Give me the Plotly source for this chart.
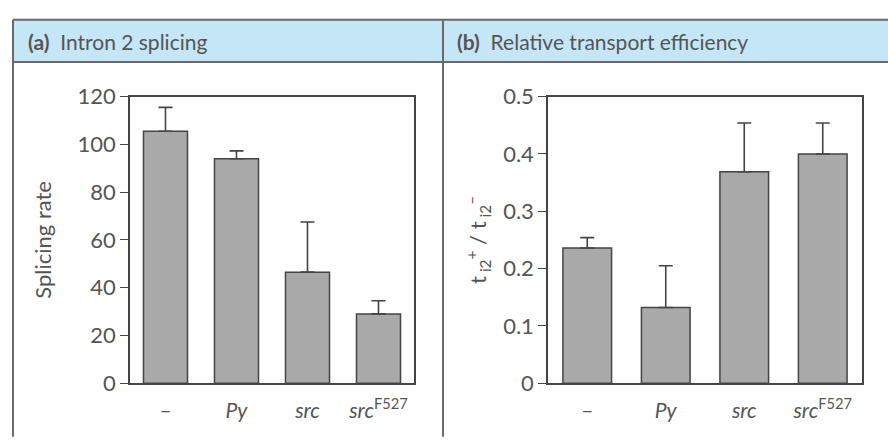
import plotly.graph_objects as go

categories = ["–", "<i>Py</i>", "<i>src</i>", "<i>src</i><sup>F527</sup>"]
splicing_rate = [105.5, 94, 46.5, 29]
splicing_err = [10, 3.3, 21, 5.5]
transport_eff = [0.236, 0.132, 0.369, 0.400]
transport_err = [0.018, 0.073, 0.085, 0.054]
left_ticks = [0, 20, 40, 60, 80, 100, 120]
right_ticks = [0, 0.1, 0.2, 0.3, 0.4, 0.5]
right_ticklabels = ["0", "0.1", "0.2", "0.3", "0.4", "0.5"]

W, H = 888, 445
FONT = "Lato"
TXT = "#555555"
BAR = "#a9a9a9"
EDGE = "#444444"
LINE = "#6a6a6a"

def px(x):
    return x / W

def py(y):
    return 1 - y / H

fig = go.Figure()
x_idx = list(range(len(categories)))
fig.add_trace(go.Bar(
    x=x_idx, y=splicing_rate, width=0.62, xaxis="x", yaxis="y",
    marker=dict(color=BAR, line=dict(color=EDGE, width=1.5)),
    error_y=dict(type="data", symmetric=False, array=splicing_err,
                 arrayminus=[0] * 4, color=EDGE, thickness=1.6, width=7),
    showlegend=False))
fig.add_trace(go.Bar(
    x=x_idx, y=transport_eff, width=0.62, xaxis="x2", yaxis="y2",
    marker=dict(color=BAR, line=dict(color=EDGE, width=1.5)),
    error_y=dict(type="data", symmetric=False, array=transport_err,
                 arrayminus=[0] * 4, color=EDGE, thickness=1.6, width=7),
    showlegend=False))

axcommon = dict(showline=True, linecolor=EDGE, linewidth=1.5, mirror=True,
                showgrid=False, zeroline=False)
fig.update_layout(
    width=W, height=H, margin=dict(l=0, r=0, t=0, b=0),
    paper_bgcolor="white", plot_bgcolor="white",
    font=dict(family=FONT, color=TXT, size=21),
    xaxis=dict(domain=[px(130), px(414)], range=[-0.5, 3.5],
               tickvals=x_idx, ticktext=categories, ticks="",
               ticklabelstandoff=8,
               tickfont=dict(size=21), anchor="y", **axcommon),
    yaxis=dict(domain=[py(393), py(88)], range=[0, 120],
               tickvals=left_ticks, ticks="outside", ticklen=8,
               tickcolor=EDGE, tickwidth=1.3, tickfont=dict(size=22),
               title=dict(text="Splicing rate", font=dict(size=22), standoff=20),
               anchor="x", **axcommon),
    xaxis2=dict(domain=[px(548), px(862)], range=[-0.5, 3.5],
                tickvals=x_idx, ticktext=categories, ticks="",
                ticklabelstandoff=8,
                tickfont=dict(size=21), anchor="y2", **axcommon),
    yaxis2=dict(domain=[py(393), py(88)], range=[0, 0.5],
                tickvals=right_ticks, ticktext=right_ticklabels,
                ticks="outside", ticklen=8, tickcolor=EDGE, tickwidth=1.3,
                tickfont=dict(size=22),
                title=dict(text="t<sub> i2</sub><sup>+</sup> / t<sub> i2</sub><sup>–</sup>",
                           font=dict(size=22), standoff=10),
                anchor="x2", **axcommon),
)

shapes = [
    dict(type="rect", xref="paper", yref="paper", x0=px(13), x1=1.02,
         y0=py(51), y1=py(6), fillcolor="#c4e6f7", line=dict(width=0), layer="below"),
    dict(type="line", xref="paper", yref="paper", x0=px(13), x1=1.02,
         y0=py(6), y1=py(6), line=dict(color=LINE, width=2)),
    dict(type="line", xref="paper", yref="paper", x0=px(13), x1=1.02,
         y0=py(51), y1=py(51), line=dict(color=LINE, width=2)),
    dict(type="line", xref="paper", yref="paper", x0=px(13), x1=px(13),
         y0=py(6), y1=py(450), line=dict(color=LINE, width=2)),
    dict(type="line", xref="paper", yref="paper", x0=px(443), x1=px(443),
         y0=py(6), y1=py(450), line=dict(color=LINE, width=2)),
]
fig.update_layout(shapes=shapes)

fig.add_annotation(xref="paper", yref="paper", x=px(26), y=py(29),
                   xanchor="left", yanchor="middle", showarrow=False,
                   text="<b>(a)</b>  Intron 2 splicing", font=dict(size=21, color=TXT))
fig.add_annotation(xref="paper", yref="paper", x=px(455), y=py(29),
                   xanchor="left", yanchor="middle", showarrow=False,
                   text="<b>(b)</b>  Relative transport efficiency", font=dict(size=21, color=TXT))

fig.write_html("out.html")
